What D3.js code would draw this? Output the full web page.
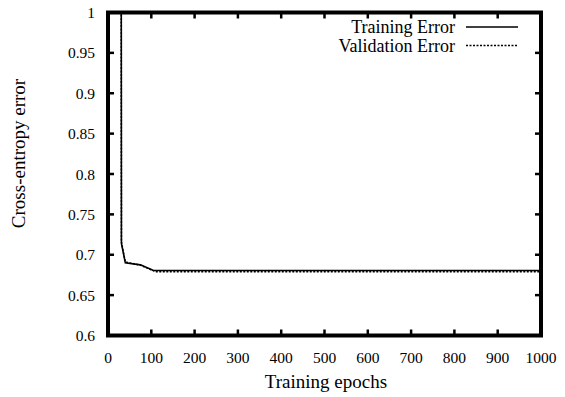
<!DOCTYPE html>
<html>
<head>
<meta charset="utf-8">
<script src="https://cdn.jsdelivr.net/npm/d3@7/dist/d3.min.js"></script>
<style>
  html, body { margin: 0; padding: 0; background: #fff; }
  svg { display: block; }
</style>
</head>
<body>
<svg id="chart" width="565" height="397"></svg>
<script>
// ---- data ----
const trainEpochs = [30, 31, 40, 75, 105, 200, 300, 400, 500, 600, 700, 800, 900, 1000];
const trainError  = [1.6, 0.714, 0.690, 0.6875, 0.6805, 0.6805, 0.6805, 0.6805, 0.6805, 0.6805, 0.6805, 0.6805, 0.6805, 0.6805];
const valEpochs   = [30, 31, 40, 75, 110, 200, 300, 400, 500, 600, 700, 800, 900, 1000];
const valError    = [1.6, 0.716, 0.691, 0.687, 0.679, 0.679, 0.679, 0.679, 0.679, 0.679, 0.679, 0.679, 0.679, 0.679];
const xTicks = [0, 100, 200, 300, 400, 500, 600, 700, 800, 900, 1000];
const yTicks = [0.6, 0.65, 0.7, 0.75, 0.8, 0.85, 0.9, 0.95, 1];
const seriesNames = ["Training Error", "Validation Error"];
const xTitle = "Training epochs";
const yTitle = "Cross-entropy error";

// ---- layout ----
const FONT = "'Liberation Serif', 'Times New Roman', Times, serif";
const L = 108, R = 541, T = 12.5, B = 335.5;
const svg = d3.select("#chart").attr("font-family", FONT);
const x = d3.scaleLinear().domain([0, 1000]).range([L, R]);
const y = d3.scaleLinear().domain([0.6, 1]).range([B, T]);

svg.append("defs").append("clipPath").attr("id", "clip")
  .append("rect").attr("x", L).attr("y", T).attr("width", R - L).attr("height", B - T);

// ticks (inward, all four sides)
const tickLen = 6;
const tg = svg.append("g").attr("stroke", "#000").attr("stroke-width", 2.5);
xTicks.forEach(t => {
  tg.append("line").attr("x1", x(t)).attr("x2", x(t)).attr("y1", B).attr("y2", B - tickLen);
  tg.append("line").attr("x1", x(t)).attr("x2", x(t)).attr("y1", T).attr("y2", T + tickLen);
});
yTicks.forEach(t => {
  tg.append("line").attr("x1", L).attr("x2", L + tickLen).attr("y1", y(t)).attr("y2", y(t));
  tg.append("line").attr("x1", R).attr("x2", R - tickLen).attr("y1", y(t)).attr("y2", y(t));
});

// tick labels
const fmtY = d => String(+d.toFixed(2));
svg.append("g").selectAll("text").data(xTicks).join("text")
  .attr("font-family", FONT)
  .attr("x", d => x(d)).attr("y", 363).attr("text-anchor", "middle")
  .attr("font-size", 15.5).text(d => d);
svg.append("g").selectAll("text").data(yTicks).join("text")
  .attr("font-family", FONT)
  .attr("x", 95).attr("y", d => y(d) + 5.5).attr("text-anchor", "end")
  .attr("font-size", 15.5).text(fmtY);

// axis titles
svg.append("text").attr("font-family", FONT).attr("x", 326).attr("y", 388).attr("text-anchor", "middle")
  .attr("font-size", 19).text(xTitle);
svg.append("text").attr("font-family", FONT).attr("transform", "translate(25,153.5) rotate(-90)")
  .attr("text-anchor", "middle").attr("font-size", 19).text(yTitle);

// lines
const line = d3.line().x(d => x(d[0])).y(d => y(d[1]));
const plot = svg.append("g").attr("clip-path", "url(#clip)");
plot.append("path").datum(valEpochs.map((e, i) => [e, valError[i]]))
  .attr("d", line).attr("fill", "none").attr("stroke", "#000")
  .attr("stroke-width", 1.5).attr("stroke-dasharray", "2,1.5");
plot.append("path").datum(trainEpochs.map((e, i) => [e, trainError[i]]))
  .attr("d", line).attr("fill", "none").attr("stroke", "#000")
  .attr("stroke-width", 1.6);

// legend
const legY = [33, 51.5];
seriesNames.forEach((name, i) => {
  svg.append("text").attr("font-family", FONT).attr("x", 455).attr("y", legY[i]).attr("text-anchor", "end")
    .attr("font-size", 18).text(name);
  svg.append("line").attr("x1", 466).attr("x2", 518)
    .attr("y1", legY[i] - 6).attr("y2", legY[i] - 6)
    .attr("stroke", "#000").attr("stroke-width", i === 0 ? 1.6 : 1.5)
    .attr("stroke-dasharray", i === 0 ? null : "2,1.5");
});

// frame
svg.append("rect").attr("x", L).attr("y", T).attr("width", R - L).attr("height", B - T)
  .attr("fill", "none").attr("stroke", "#000").attr("stroke-width", 4);
</script>
</body>
</html>
